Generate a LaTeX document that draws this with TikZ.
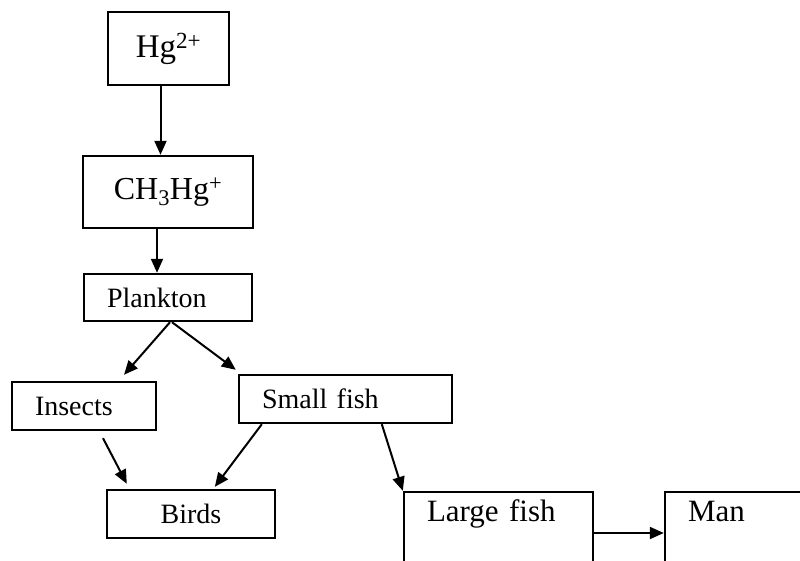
\documentclass[tikz,border=0pt]{standalone}
\usepackage{fontspec}
\setmainfont{Liberation Serif}
\usetikzlibrary{arrows.meta}

\begin{document}
\begin{tikzpicture}[%
  x=1pt, y=-1pt,
  box/.style = {draw, line width=2.4pt, inner xsep=23pt, inner ysep=0pt, align=left},
  mid/.style = {box, inner xsep=0pt, align=center},
  open/.style = {box, text depth=70pt, minimum height=108pt, font=\fontsize{31}{36}\selectfont},
  arr/.style = {line width=2pt, ->},
  >={Triangle[length=14pt,width=12pt]},
]
  \useasboundingbox (0,0) rectangle (800,561);
  \clip (0,0) rectangle (800,561);

  \node[mid, text width=121pt, minimum height=73pt, font=\fontsize{33}{38}\selectfont]
    (hg) at (168.5,48.5) {Hg\textsuperscript{2+}};
  \node[mid, text width=170pt, minimum height=72pt, font=\fontsize{32}{38}\selectfont]
    (ch) at (168,192) {CH\textsubscript{3}Hg\textsuperscript{+}};
  \node[box, text width=122pt, minimum height=47pt, font=\fontsize{28}{32}\selectfont]
    (plank) at (168,297.5) {Plankton};

  \node[box, text width=98pt, minimum height=48pt, font=\fontsize{28}{32}\selectfont]
    (ins) at (84,406) {Insects};
  \node[box, text width=167pt, minimum height=48pt, font=\fontsize{28}{32}\selectfont]
    (sf) at (345.5,399) {Small fish};
  \node[mid, text width=168pt, minimum height=48pt, font=\fontsize{28}{32}\selectfont]
    (birds) at (191,514) {Birds};

  \node[open, text width=143pt] (lf) at (498.5,546) {Large fish};
  \node[open, text width=139pt] (man) at (757.5,546) {Man};

  % food chain
  \draw[arr] ([xshift=-8pt]hg.south) -- ([xshift=-8pt]hg.south |- ch.north);
  \draw[arr] ([xshift=-11pt]ch.south) -- ([xshift=-11pt]ch.south |- plank.north);
  \draw[arr] ([xshift=2pt]plank.south) -- ([xshift=40pt,yshift=6pt]ins.north);
  \draw[arr] ([xshift=4pt]plank.south) -- ([xshift=-2pt,yshift=4pt]sf.north west);
  \draw[arr] ([xshift=19pt,yshift=-7pt]ins.south) -- ([xshift=21pt,yshift=5pt]birds.north west);
  \draw[arr] ([xshift=24pt]sf.south west) -- ([xshift=109pt,yshift=2pt]birds.north west);
  \draw[arr] ([xshift=144pt]sf.south west) -- (lf.north west);
  \draw[arr] ([yshift=13pt]lf.east) -- ([yshift=13pt]man.west);

\end{tikzpicture}
\end{document}
